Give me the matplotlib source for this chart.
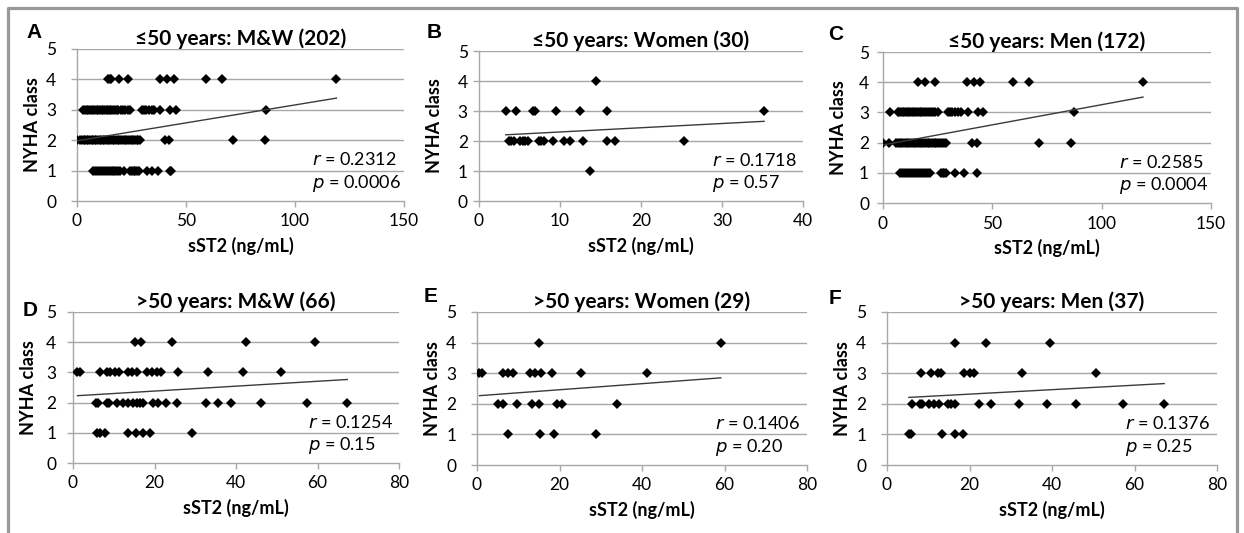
#sST2 vs NYHA class scatter panels, split by age and sex
import numpy as np
import matplotlib
matplotlib.use('Agg')
import matplotlib.pyplot as plt
from matplotlib.lines import Line2D

# sST2 values (ng/mL) per NYHA class, one group of lists per panel
a_class4 = [14.2, 15.0, 15.8, 19.1, 23.4, 37.9, 41.3, 44.6, 59.2, 66.5, 119.0]
a_class3 = [2.8, 3.6, 4.4, 5.1, 6.0, 6.8, 7.5, 8.3, 9.1, 9.8, 10.5, 11.3, 12.0, 12.8, 13.6,
            14.3, 15.0, 15.8, 16.6, 17.4, 18.2, 19.0, 20.0, 21.1, 22.0, 23.2, 24.5, 29.8,
            30.8, 31.8, 33.0, 34.2, 35.2, 38.2, 42.8, 45.6, 86.7]
a_class2 = [0.0, 1.5, 2.3, 3.0, 3.8, 4.5, 5.2, 6.0, 6.7, 7.4, 8.2, 8.9, 9.6, 10.4, 11.1, 11.8,
            12.6, 13.3, 14.0, 14.8, 15.5, 16.3, 17.0, 17.8, 18.6, 19.4, 20.2, 21.0, 21.8,
            22.6, 23.4, 24.2, 25.0, 25.8, 26.6, 27.4, 28.2, 29.0, 40.2, 42.4, 71.6, 86.4]
a_class1 = [7.3, 8.2, 9.1, 10.0, 10.9, 11.8, 12.7, 13.6, 14.5, 15.4, 16.3, 17.2, 18.1, 19.0,
            19.9, 21.4, 24.5, 25.3, 26.0, 26.8, 27.6, 28.3, 32.0, 34.4, 37.0, 42.5, 43.2]

b_class4 = [14.5]
b_class3 = [3.3, 4.6, 6.7, 6.9, 9.5, 12.5, 15.8, 35.2]
b_class2 = [3.7, 4.0, 4.3, 5.0, 5.4, 5.7, 6.0, 7.4, 7.7, 8.0, 9.1, 10.5, 11.2, 12.9, 15.8,
            16.8, 25.3]
b_class1 = [13.7]

c_class4 = [15.9, 19.2, 23.8, 38.4, 41.5, 44.5, 59.3, 66.6, 118.9]
c_class3 = [3.4, 6.7, 7.5, 8.3, 9.0, 9.8, 10.6, 11.3, 12.1, 12.9, 13.6, 14.4, 15.2, 16.0,
            16.8, 17.6, 18.4, 19.3, 20.2, 21.1, 22.0, 23.0, 24.0, 25.0, 29.6, 30.6, 31.7,
            32.9, 34.2, 35.7, 38.7, 43.3, 45.6, 87.5]
c_class2 = [0.0, 2.6, 6.0, 6.8, 7.6, 8.4, 9.2, 10.0, 10.8, 11.6, 12.4, 13.2, 14.0, 14.8,
            15.6, 16.4, 17.2, 18.0, 18.8, 19.6, 20.4, 21.2, 22.0, 22.8, 23.6, 24.4, 25.2,
            26.1, 27.0, 28.0, 29.0, 40.7, 42.8, 71.5, 86.0]
c_class1 = [7.8, 8.7, 9.6, 10.5, 11.4, 12.3, 13.2, 14.1, 15.0, 15.9, 16.8, 17.7, 18.6, 19.6,
            20.6, 21.6, 26.5, 27.3, 28.0, 28.8, 33.0, 37.0, 43.0]

d_class4 = [15.2, 16.8, 24.3, 42.4, 59.3]
d_class3 = [1.1, 1.7, 6.6, 8.3, 9.1, 10.3, 11.4, 13.6, 14.4, 15.6, 18.1, 19.5, 20.5, 21.7,
            25.8, 33.2, 41.7, 51.0]
d_class2 = [5.6, 6.2, 8.4, 8.9, 10.7, 12.3, 13.6, 14.8, 15.6, 16.4, 17.2, 19.7, 20.9, 22.7,
            25.6, 32.6, 35.6, 38.7, 46.1, 57.4, 67.3]
d_class1 = [5.8, 6.6, 7.8, 13.6, 15.4, 17.1, 18.9, 29.1]

e_class4 = [15.0, 59.1]
e_class3 = [0.6, 1.3, 6.2, 7.4, 8.7, 12.8, 14.0, 15.5, 18.1, 25.2, 41.3]
e_class2 = [5.1, 6.3, 9.7, 13.4, 15.1, 19.3, 20.7, 34.0]
e_class1 = [7.4, 15.2, 18.6, 28.8]

f_class4 = [16.4, 24.0, 39.4]
f_class3 = [8.3, 10.7, 12.3, 13.1, 18.7, 20.0, 21.0, 32.7, 50.6]
f_class2 = [6.1, 8.1, 8.5, 10.1, 11.3, 12.5, 14.9, 15.5, 16.6, 22.4, 25.1, 32.0, 38.8, 45.8,
            57.2, 67.2]
f_class1 = [5.3, 5.9, 13.3, 16.6, 18.4]

panel_letters = ['A', 'B', 'C', 'D', 'E', 'F']
titles = ['≤50 years: M&W (202)', '≤50 years: Women (30)', '≤50 years: Men (172)',
          '>50 years: M&W (66)', '>50 years: Women (29)', '>50 years: Men (37)']
r_values = ['0.2312', '0.1718', '0.2585', '0.1254', '0.1406', '0.1376']
p_values = ['0.0006', '0.57', '0.0004', '0.15', '0.20', '0.25']
# linear trendline: intercept, slope
trend_intercepts = [1.98, 2.16, 1.92, 2.22, 2.26, 2.17]
trend_slopes = [0.0118, 0.0141, 0.01335, 0.0081, 0.00995, 0.0073]
x_max = [150, 40, 150, 80, 80, 80]
x_step = [50, 10, 50, 20, 20, 20]

classes = [[a_class1, a_class2, a_class3, a_class4],
           [b_class1, b_class2, b_class3, b_class4],
           [c_class1, c_class2, c_class3, c_class4],
           [d_class1, d_class2, d_class3, d_class4],
           [e_class1, e_class2, e_class3, e_class4],
           [f_class1, f_class2, f_class3, f_class4]]

W, H = 1244, 533
# axes boxes in pixels: left, top, right, bottom
boxes = [(77, 49, 404, 201), (479, 51, 803, 201), (883, 52, 1211, 203),
         (73, 312, 399, 463), (477, 312, 807, 465), (887, 312, 1217, 465)]
letter_pos = [(34, 33), (434, 33), (836, 34), (30, 311), (431, 297), (835, 299)]
ytick_pad = [11, 4, 6, 8, 11, 11]

plt.rcParams['font.family'] = ['Lato', 'DejaVu Sans']
grid_col = '#a8a8a8'

fig = plt.figure(figsize=(W / 100, H / 100), dpi=100)

for i in range(6):
    l, t, r, b = boxes[i]
    ax = fig.add_axes([l / W, 1 - b / H, (r - l) / W, (b - t) / H])
    xs = np.concatenate([np.asarray(c, dtype=float) for c in classes[i]])
    ys = np.concatenate([np.full(len(c), k + 1.0) for k, c in enumerate(classes[i])])

    for yv in range(1, 6):
        ax.axhline(yv, color=grid_col, lw=1.0, zorder=1)
    ax.plot(xs, ys, 'D', color='black', ms=5.5, mew=0, zorder=3)
    line_x = np.array([xs.min(), xs.max()])
    ax.plot(line_x, trend_intercepts[i] + trend_slopes[i] * line_x,
            color='#3a3a3a', lw=1.0, zorder=4)

    ax.set_xlim(0, x_max[i])
    ax.set_ylim(0, 5)
    ax.set_xticks(np.arange(0, x_max[i] + 1, x_step[i]))
    ax.set_yticks(range(6))
    for s in ['top', 'right']:
        ax.spines[s].set_visible(False)
    for s in ['left', 'bottom']:
        ax.spines[s].set_color(grid_col)
        ax.spines[s].set_linewidth(1.0)
    ax.tick_params(axis='x', length=4, width=1.0, color=grid_col, labelsize=12.5, pad=5)
    ax.tick_params(axis='y', length=4, width=1.0, color=grid_col, labelsize=12.5,
                   pad=ytick_pad[i])
    ax.patch.set_alpha(0)

    ax.set_title(titles[i], fontsize=15, fontweight='bold', pad=3)
    ax.set_xlabel('sST2 (ng/mL)', fontsize=13, fontweight='bold')
    ax.set_ylabel('NYHA class', fontsize=13, fontweight='bold')
    ax.xaxis.set_label_coords(0.5, -36 / (b - t))
    ax.yaxis.set_label_coords(-36 / (r - l), 0.5)

    ax.text(0.72, 0.27, '$r$ = ' + r_values[i], transform=ax.transAxes,
            fontsize=13, va='center', ha='left')
    ax.text(0.72, 0.114, '$p$ = ' + p_values[i], transform=ax.transAxes,
            fontsize=13, va='center', ha='left')

    lx, ly = letter_pos[i]
    fig.text(lx / W, 1 - ly / H, panel_letters[i], fontsize=15, fontweight='bold',
             family='Liberation Sans', ha='center', va='center')

# grey frame round the figure
frame = Line2D([8 / W, 8 / W, 1237 / W, 1237 / W], [0, 1 - 8 / H, 1 - 8 / H, 0],
               transform=fig.transFigure, color='#989898', lw=2.3)
fig.add_artist(frame)

fig.savefig('out.png', dpi=100)
